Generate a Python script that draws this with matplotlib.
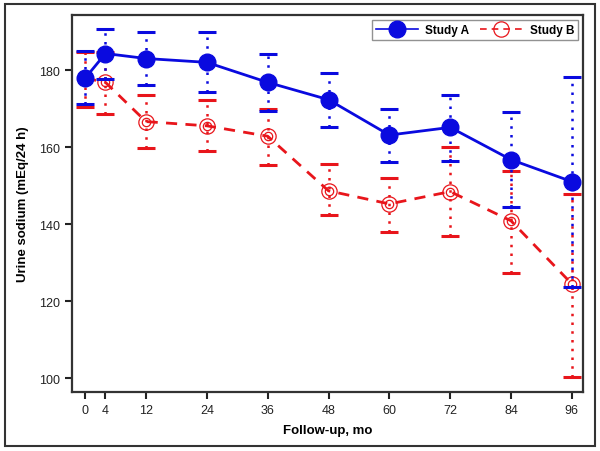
import matplotlib
matplotlib.use("Agg")
import matplotlib.pyplot as plt
from matplotlib.patches import Rectangle

plt.rcParams['font.family'] = ['Liberation Sans', 'DejaVu Sans']

# Данные
months = [0, 4, 12, 24, 36, 48, 60, 72, 84, 96]
a_mean = [178.0, 184.4, 183.1, 182.1, 176.9, 172.4, 163.2, 165.2, 156.8, 151.1]
a_upper = [185.1, 190.9, 189.9, 189.9, 184.2, 179.3, 170.0, 173.7, 169.3, 178.3]
a_lower = [171.3, 177.7, 176.3, 174.4, 169.5, 165.2, 156.1, 156.5, 144.4, 123.8]
b_mean = [178.0, 176.9, 166.7, 165.6, 162.9, 148.7, 145.3, 148.5, 140.9, 124.5]
b_upper = [184.9, 184.9, 173.6, 172.3, 170.1, 155.7, 152.0, 160.0, 153.9, 148.0]
b_lower = [170.5, 168.8, 159.9, 159.1, 155.5, 142.4, 137.9, 137.0, 127.4, 100.4]

fig = plt.figure(figsize=(6, 4.52), dpi=100)
ax = fig.add_axes([0.12, 0.1305, 0.8517, 0.834])

# рамка вокруг всей картинки
fig.patches.append(Rectangle((0.008, 0.011), 0.984, 0.978, transform=fig.transFigure,
                             fill=False, edgecolor='#333333', linewidth=1.5))


def draw_series(mean, lower, upper, color, ls, marker_kw, label):
    err = [[m - lo for m, lo in zip(mean, lower)], [up - m for m, up in zip(mean, upper)]]
    eb = ax.errorbar(months, mean, yerr=err, fmt='none', ecolor=color, elinewidth=1.8,
                     capsize=6.5, capthick=2.2)
    for lc in eb[2]:
        lc.set_linestyle((0, (1, 2.5)))
    line, = ax.plot(months, mean, color=color, linestyle=ls, linewidth=2.0, label=label,
                    **marker_kw)
    return line


lb = draw_series(b_mean, b_lower, b_upper, '#e8151b', (0, (4, 3)),
                 dict(marker='o', markersize=11, markerfacecolor='none',
                      markeredgecolor='#e8151b', markeredgewidth=0.9), 'Study B')
ax.plot(months, b_mean, linestyle='none', marker='o', markersize=6, markerfacecolor='none',
        markeredgecolor='#e8151b', markeredgewidth=0.9)
la = draw_series(a_mean, a_lower, a_upper, '#0a0adf', '-',
                 dict(marker='o', markersize=12, markerfacecolor='#0a0adf',
                      markeredgecolor='#0a0adf'), 'Study A')

ax.set_xlim(-2.6, 98.2)
ax.set_ylim(96.4, 194.4)
ax.set_xticks(months)
ax.set_yticks([100, 120, 140, 160, 180])
ax.tick_params(direction='out', length=5, width=1.5, labelsize=9, colors='#222222')
for sp in ax.spines.values():
    sp.set_linewidth(1.6)
    sp.set_color('#333333')

ax.set_xlabel('Follow-up, mo', fontsize=9.5, fontweight='bold', labelpad=6)
ax.set_ylabel('Urine sodium (mEq/24 h)', fontsize=9.5, fontweight='bold', labelpad=7)

leg = ax.legend(handles=[la, lb], loc='upper right', ncol=2, frameon=True,
                fancybox=False, edgecolor='#777777', handlelength=3.6, handletextpad=0.6,
                columnspacing=0.9, borderaxespad=0.4, borderpad=0.35,
                prop={'weight': 'bold', 'size': 8.5})
leg.get_frame().set_linewidth(1.0)
for h in leg.legend_handles:
    h.set_linewidth(1.2)

plt.savefig('out.png', dpi=100)
